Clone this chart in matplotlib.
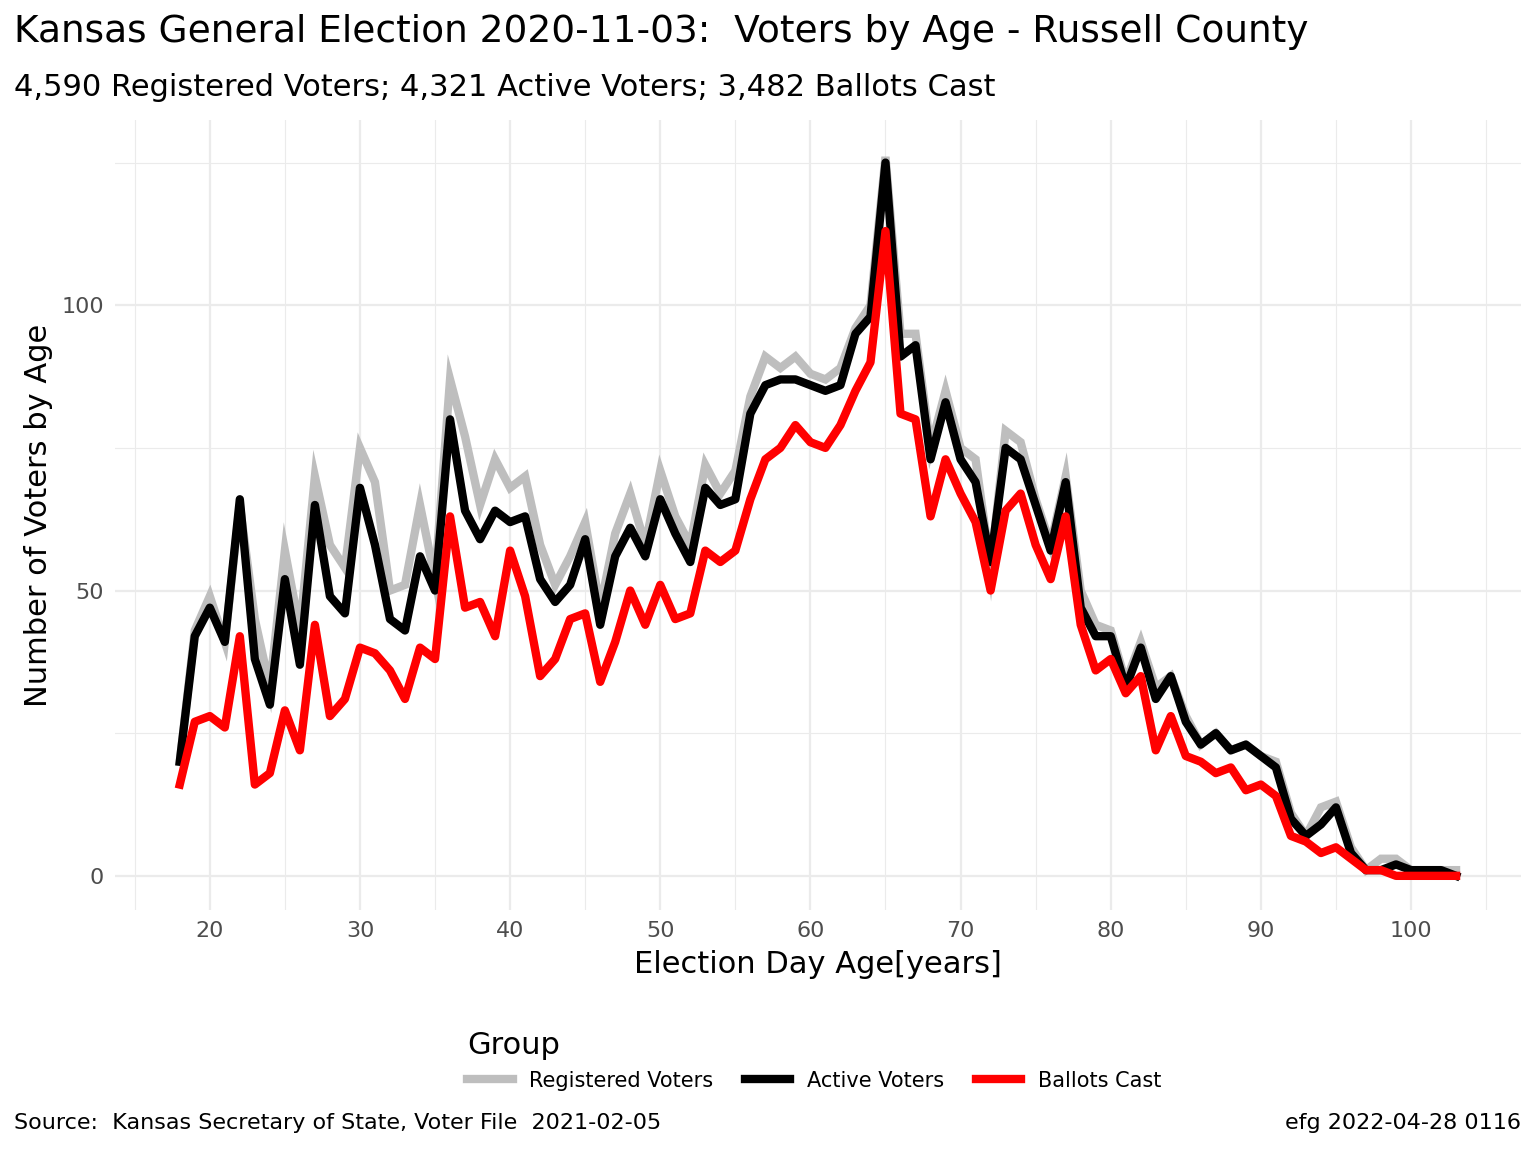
import matplotlib.pyplot as plt
import numpy as np

ages = list(range(18, 104))
registered = [20, 43, 49, 41, 65, 45, 33, 57, 43, 70, 58, 54, 75, 69, 50, 51, 65, 52, 87, 77,
              65, 73, 68, 70, 58, 51, 56, 62, 47, 60, 67, 58, 71, 63, 58, 72, 67, 71, 84, 91,
              89, 91, 88, 87, 89, 96, 100, 126, 95, 95, 75, 85, 75, 73, 54, 78, 76, 66, 58, 70,
              50, 44, 43, 34, 41, 33, 35, 28, 23, 25, 22, 23, 21, 20, 11, 7, 12, 13, 5, 1,
              3, 3, 1, 1, 1, 1]
active = [20, 42, 47, 41, 66, 38, 30, 52, 37, 65, 49, 46, 68, 58, 45, 43, 56, 50, 80, 64,
          59, 64, 62, 63, 52, 48, 51, 59, 44, 56, 61, 56, 66, 60, 55, 68, 65, 66, 81, 86,
          87, 87, 86, 85, 86, 95, 98, 125, 91, 93, 73, 83, 73, 69, 55, 75, 73, 65, 57, 69,
          47, 42, 42, 33, 40, 31, 35, 27, 23, 25, 22, 23, 21, 19, 10, 7, 9, 12, 4, 1,
          1, 2, 1, 1, 1, 0]
ballots = [16, 27, 28, 26, 42, 16, 18, 29, 22, 44, 28, 31, 40, 39, 36, 31, 40, 38, 63, 47,
           48, 42, 57, 49, 35, 38, 45, 46, 34, 41, 50, 44, 51, 45, 46, 57, 55, 57, 66, 73,
           75, 79, 76, 75, 79, 85, 90, 113, 81, 80, 63, 73, 67, 62, 50, 64, 67, 58, 52, 63,
           44, 36, 38, 32, 35, 22, 28, 21, 20, 18, 19, 15, 16, 14, 7, 6, 4, 5, 3, 1,
           1, 0, 0, 0, 0, 0]

fig = plt.figure(figsize=(15.36, 11.52), dpi=100)
ax = fig.add_axes([0.075, 0.21, 0.915, 0.686])

ax.plot(ages, registered, color='#BEBEBE', linewidth=6, label='Registered Voters', solid_joinstyle='miter')
ax.plot(ages, active, color='black', linewidth=6, label='Active Voters')
ax.plot(ages, ballots, color='red', linewidth=6, label='Ballots Cast')

ax.set_xlim(13.7, 107.3)
ax.set_ylim(-6, 132.5)
ax.set_xticks(range(20, 101, 10))
ax.set_xticks(range(15, 106, 10), minor=True)
ax.set_yticks([0, 50, 100])
ax.set_yticks([25, 75, 125], minor=True)
ax.grid(True, which='major', color='#EBEBEB', linewidth=1.6)
ax.grid(True, which='minor', color='#EBEBEB', linewidth=0.8)
for s in ax.spines.values():
    s.set_visible(False)
ax.tick_params(which='both', length=0, labelsize=16, labelcolor='#4D4D4D', pad=8)

ax.set_xlabel('Election Day Age[years]', fontsize=22, labelpad=6)
ax.set_ylabel('Number of Voters by Age', fontsize=22, labelpad=6)

fig.text(0.009, 0.972, 'Kansas General Election 2020-11-03:  Voters by Age - Russell County',
         fontsize=27, va='center')
fig.text(0.009, 0.924, '4,590 Registered Voters; 4,321 Active Voters; 3,482 Ballots Cast',
         fontsize=22, va='center')
fig.text(0.009, 0.025, 'Source:  Kansas Secretary of State, Voter File  2021-02-05', fontsize=16, va='center')
fig.text(0.99, 0.025, 'efg 2022-04-28 0116', fontsize=16, va='center', ha='right')

leg = fig.legend(loc='center', bbox_to_anchor=(0.53, 0.079), ncol=3, frameon=False,
                 fontsize=15, title='Group', title_fontsize=22, handlelength=2.2,
                 columnspacing=1.5)
leg._legend_box.align = 'left'
# put title on the left of the entries
from matplotlib.offsetbox import HPacker
box = leg._legend_box
box._children = [HPacker(children=box._children, align='center', pad=0, sep=20)] if False else box._children
fig.savefig('out.png', dpi=100)
